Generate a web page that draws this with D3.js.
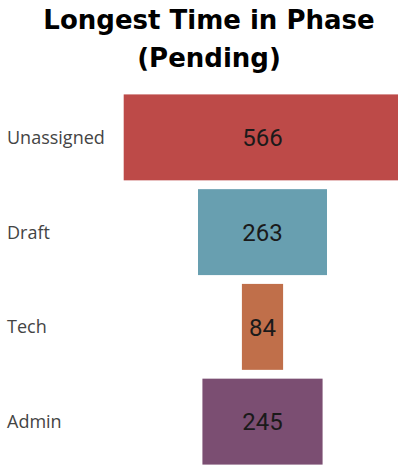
<!DOCTYPE html>
<html>
<head>
<meta charset="utf-8">
<script src="https://cdn.jsdelivr.net/npm/d3@7/dist/d3.min.js"></script>
<style>
  html, body { margin: 0; padding: 0; background: #fff; overflow: hidden; }
  svg { display: block; }
</style>
</head>
<body>
<svg id="chart" width="398" height="466"></svg>
<script>
// Funnel data: longest time in phase (pending)
const categories = ["Unassigned", "Draft", "Tech", "Admin"];
const values = [566, 263, 84, 245];
const colors = ["#BD4A48", "#689FB0", "#C06F4A", "#7B4E72"];
const titleLines = ["Longest Time in Phase", "(Pending)"];

const W = 398, H = 466;
const svg = d3.select("#chart");

// Title
svg.append("g").selectAll("text")
  .data(titleLines)
  .join("text")
  .attr("x", 209)
  .attr("y", (d, i) => 29 + i * 37.5)
  .attr("text-anchor", "middle")
  .attr("font-family", "'DejaVu Sans', sans-serif")
  .attr("font-weight", "bold")
  .attr("font-size", 26)
  .attr("fill", "#000")
  .text(d => d);

// Scales
const centerX = 262.5;
const y = d3.scaleBand()
  .domain(categories)
  .range([90, 469])
  .paddingInner(0.093)
  .paddingOuter(0.0465);

const w = d3.scaleLinear()
  .domain([0, d3.max(values)])
  .range([0, 277.6]);

const data = categories.map((c, i) => ({ cat: c, value: values[i], color: colors[i] }));

// Funnel bars, centered on a common axis
svg.append("g").selectAll("rect")
  .data(data)
  .join("rect")
  .attr("x", d => centerX - w(d.value) / 2)
  .attr("y", d => y(d.cat))
  .attr("width", d => w(d.value))
  .attr("height", y.bandwidth())
  .attr("fill", d => d.color);

// Value labels
svg.append("g").selectAll("text")
  .data(data)
  .join("text")
  .attr("x", centerX)
  .attr("y", d => y(d.cat) + y.bandwidth() / 2)
  .attr("dy", "0.36em")
  .attr("text-anchor", "middle")
  .attr("font-family", "Roboto, sans-serif")
  .attr("font-size", 24)
  .attr("fill", "#1a1a1a")
  .text(d => d.value);

// Category labels
svg.append("g").selectAll("text")
  .data(data)
  .join("text")
  .attr("x", 7)
  .attr("y", d => y(d.cat) + y.bandwidth() / 2)
  .attr("dy", "0.36em")
  .attr("font-family", "'Open Sans', sans-serif")
  .attr("font-size", 18)
  .attr("fill", "#444")
  .text(d => d.cat);
</script>
</body>
</html>
